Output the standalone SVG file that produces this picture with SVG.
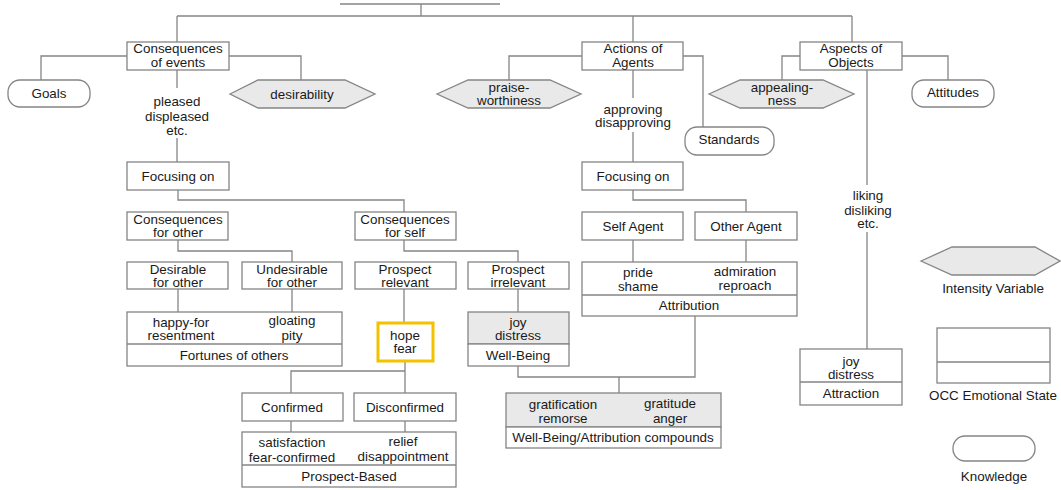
<svg xmlns="http://www.w3.org/2000/svg" width="1061" height="490" viewBox="0 0 1061 490">
<style>
.b{fill:#fff;stroke:#858585;stroke-width:1.3}
.g{fill:#e9e9e9;stroke:#858585;stroke-width:1.3}
.c{fill:none;stroke:#858585;stroke-width:1.3}
.y{fill:#fff;stroke:#f2c200;stroke-width:3}
text{font-family:"Liberation Sans",Arial,sans-serif;font-size:13.4px;fill:#1a1a1a;text-anchor:middle;dominant-baseline:central}
</style>
<rect width="1061" height="490" fill="#fff"/>
<g id="connectors">
<path class="c" d="M340 4H500M421 4V16M177 16H852M177 16V42M633 16V42M852 16V42"/>
<path class="c" d="M127 56H41V80M229 56H301V80M177 70V88M177 138V162"/>
<path class="c" d="M582 56H509V80M683 56H703V127M633 70V98M633 132V162"/>
<path class="c" d="M800 56H782V80M902 56H948V80M867 70V185M867 232V349"/>
<path class="c" d="M178 190V200H404V212M178 240V251H292V262M178 289V312M292 289V312"/>
<path class="c" d="M404 240V251H518V262M404 289V323M518 289V312"/>
<path class="c" d="M633 190V200H746V212M633 240V262M746 240V262"/>
<path class="c" d="M405 361V371H291V393M405 371V393M291 421V432M405 421V432"/>
<path class="c" d="M518 366V377H695V316M619 377V393"/>
</g>
<g id="top-node"><rect class="b" x="127" y="42" width="102" height="28"/><text x="178" y="48">Consequences</text><text x="178" y="62">of events</text></g>
<g id="goals"><rect class="b" x="8" y="80" width="82" height="27" rx="12"/><text x="49" y="93">Goals</text></g>
<g id="desirability"><polygon class="g" points="230,94 258,80 345,80 375,94 345,108 258,108"/><text x="302" y="94">desirability</text></g>
<g id="pleased"><text x="177" y="101">pleased</text><text x="177" y="116">displeased</text><text x="177" y="130">etc.</text></g>
<g id="focus1"><rect class="b" x="127" y="162" width="102" height="28"/><text x="178" y="176">Focusing on</text></g>
<g id="actions"><rect class="b" x="582" y="42" width="101" height="28"/><text x="633" y="48">Actions of</text><text x="633" y="62">Agents</text></g>
<g id="praise"><polygon class="g" points="437,94 468,80 550,80 581,94 550,108 468,108"/><text x="509" y="87">praise-</text><text x="509" y="100">worthiness</text></g>
<g id="approving"><text x="633" y="109">approving</text><text x="633" y="122">disapproving</text></g>
<g id="standards"><rect class="b" x="685" y="127" width="89" height="28" rx="12"/><text x="729" y="139">Standards</text></g>
<g id="focus2"><rect class="b" x="582" y="162" width="101" height="28"/><text x="633" y="176">Focusing on</text></g>
<g id="aspects"><rect class="b" x="800" y="42" width="102" height="28"/><text x="851" y="48">Aspects of</text><text x="851" y="62">Objects</text></g>
<g id="appealing"><polygon class="g" points="709,94 740,80 823,80 854,94 823,108 740,108"/><text x="782" y="87">appealing-</text><text x="782" y="100">ness</text></g>
<g id="attitudes"><rect class="b" x="912" y="80" width="82" height="27" rx="12"/><text x="953" y="92">Attitudes</text></g>
<g id="liking"><text x="868" y="195">liking</text><text x="868" y="210">disliking</text><text x="868" y="223">etc.</text></g>
<g id="cons-other"><rect class="b" x="127" y="212" width="101" height="28"/><text x="178" y="219">Consequences</text><text x="178" y="232">for other</text></g>
<g id="cons-self"><rect class="b" x="355" y="212" width="101" height="28"/><text x="405" y="219">Consequences</text><text x="405" y="232">for self</text></g>
<g id="desirable-other"><rect class="b" x="127" y="262" width="101" height="27"/><text x="178" y="269">Desirable</text><text x="178" y="282">for other</text></g>
<g id="undesirable-other"><rect class="b" x="242" y="262" width="100" height="27"/><text x="292" y="269">Undesirable</text><text x="292" y="282">for other</text></g>
<g id="prospect-rel"><rect class="b" x="355" y="262" width="101" height="27"/><text x="405" y="269">Prospect</text><text x="405" y="282">relevant</text></g>
<g id="prospect-irr"><rect class="b" x="468" y="262" width="101" height="27"/><text x="518" y="269">Prospect</text><text x="518" y="282">irrelevant</text></g>
<g id="self-agent"><rect class="b" x="582" y="212" width="101" height="28"/><text x="633" y="226">Self Agent</text></g>
<g id="other-agent"><rect class="b" x="695" y="212" width="102" height="28"/><text x="746" y="226">Other Agent</text></g>
<g id="fortunes"><rect class="b" x="127" y="312" width="215" height="54"/><line class="c" x1="127" y1="344" x2="342" y2="344"/><text x="181" y="322">happy-for</text><text x="181" y="335">resentment</text><text x="292" y="320">gloating</text><text x="292" y="335">pity</text><text x="234" y="355">Fortunes of others</text></g>
<g id="hope-fear"><rect class="y" x="378" y="323" width="55" height="38"/><text x="405" y="335">hope</text><text x="405" y="348">fear</text></g>
<g id="well-being"><rect class="g" x="468" y="312" width="101" height="32"/><rect class="b" x="468" y="344" width="101" height="22"/><text x="518" y="322">joy</text><text x="518" y="335">distress</text><text x="518" y="355">Well-Being</text></g>
<g id="attribution"><rect class="b" x="582" y="262" width="215" height="54"/><line class="c" x1="582" y1="295" x2="797" y2="295"/><text x="638" y="272">pride</text><text x="638" y="286">shame</text><text x="745" y="271">admiration</text><text x="745" y="285">reproach</text><text x="689" y="305">Attribution</text></g>
<g id="confirmed"><rect class="b" x="242" y="393" width="101" height="28"/><text x="292" y="407">Confirmed</text></g>
<g id="disconfirmed"><rect class="b" x="354" y="393" width="102" height="28"/><text x="405" y="407">Disconfirmed</text></g>
<g id="prospect-based"><rect class="b" x="242" y="432" width="214" height="55"/><line class="c" x1="242" y1="465" x2="456" y2="465"/><text x="292" y="442">satisfaction</text><text x="292" y="457">fear-confirmed</text><text x="403" y="441">relief</text><text x="403" y="456">disappointment</text><text x="349" y="476">Prospect-Based</text></g>
<g id="compounds"><rect class="g" x="506" y="393" width="215" height="34"/><rect class="b" x="506" y="427" width="215" height="21"/><text x="563" y="404">gratification</text><text x="563" y="418">remorse</text><text x="670" y="403">gratitude</text><text x="670" y="418">anger</text><text x="613" y="437">Well-Being/Attribution compounds</text></g>
<g id="attraction"><rect class="b" x="800" y="349" width="102" height="56"/><line class="c" x1="800" y1="382" x2="902" y2="382"/><text x="851" y="361">joy</text><text x="851" y="374">distress</text><text x="851" y="393">Attraction</text></g>
<g id="legend-intensity"><polygon class="g" points="921,261 952,247 1035,247 1060,261 1035,275 952,275"/><text x="993" y="288">Intensity Variable</text></g>
<g id="legend-occ"><rect class="b" x="937" y="328" width="113" height="55"/><line class="c" x1="937" y1="362" x2="1050" y2="362"/><text x="993" y="395">OCC Emotional State</text></g>
<g id="legend-knowledge"><rect class="b" x="953" y="436" width="82" height="25" rx="12"/><text x="994" y="476">Knowledge</text></g>
</svg>
